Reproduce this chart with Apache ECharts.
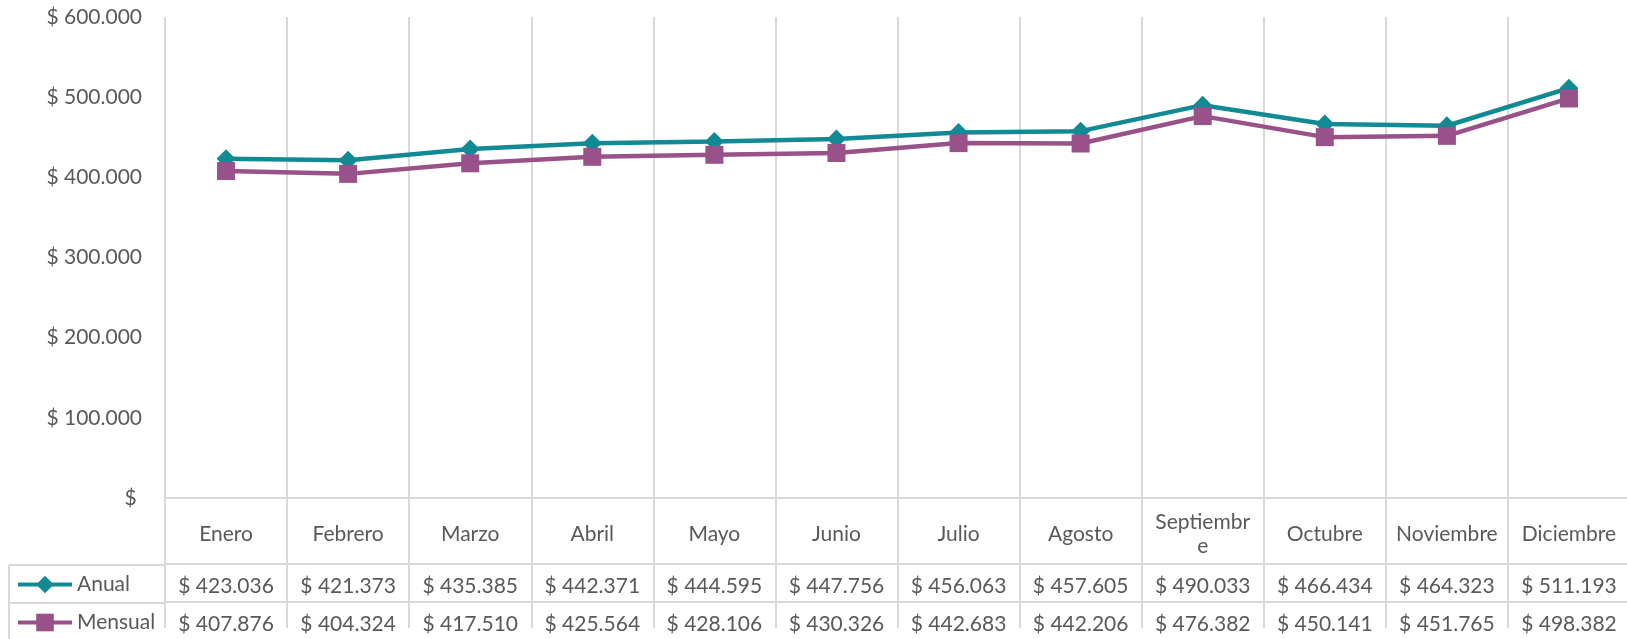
<!DOCTYPE html>
<html>
<head>
<meta charset="utf-8">
<script src="https://cdn.jsdelivr.net/npm/echarts@6.0.0/dist/echarts.min.js"></script>
<style>
    html, body { margin: 0; padding: 0; background: #fff; }
    #chart { width: 1627px; height: 639px; }
</style>
</head>
<body>
<div id="chart"></div>
<script>
var months = ['Enero', 'Febrero', 'Marzo', 'Abril', 'Mayo', 'Junio', 'Julio', 'Agosto', 'Septiembre', 'Octubre', 'Noviembre', 'Diciembre'];
var anual = [423036, 421373, 435385, 442371, 444595, 447756, 456063, 457605, 490033, 466434, 464323, 511193];
var mensual = [407876, 404324, 417510, 425564, 428106, 430326, 442683, 442206, 476382, 450141, 451765, 498382];
var seriesNames = ['Anual', 'Mensual'];

var gridColor = '#d9d9d9';
var textColor = '#595959';
var font = 'Lato';

// formato contable: $ 423.036
function money(v) {
    if (v == 0) return '$ ';
    return '$ ' + String(v).replace(/\B(?=(\d{3})+(?!\d))/g, '.');
}

function tableAxis(values, offset) {
    return {
        type: 'category',
        data: months,
        position: 'bottom',
        offset: offset,
        gridIndex: 0,
        axisLine: {show: true, lineStyle: {color: gridColor, width: 2}},
        axisTick: {show: false},
        splitLine: {show: false},
        axisLabel: {
            interval: 0,
            margin: 22,
            verticalAlign: 'middle',
            color: textColor,
            fontFamily: font,
            fontSize: 21,
            formatter: function (v, i) { return money(values[i]); }
        }
    };
}

// una leyenda por fila de la tabla
function tableLegend(name, top) {
    return {
        orient: 'vertical',
        left: 16,
        top: top,
        padding: 0,
        itemWidth: 54,
        itemHeight: 22,
        lineStyle: {width: 4},
        textStyle: {color: textColor, fontFamily: font, fontSize: 21},
        data: [name]
    };
}

var chart = echarts.init(document.getElementById('chart'));
var option = {
    backgroundColor: '#fff',
    animation: false,
    grid: {left: 165, right: -3, top: 17, bottom: 141, containLabel: false, outerBoundsMode: 'none'},
    legend: [tableLegend(seriesNames[0], 574), tableLegend(seriesNames[1], 612)],
    xAxis: [
        {
            type: 'category',
            data: months,
            boundaryGap: true,
            axisLine: {show: true, lineStyle: {color: gridColor, width: 2}},
            axisTick: {show: true, length: 130, lineStyle: {color: gridColor, width: 2}},
            splitLine: {show: true, lineStyle: {color: gridColor, width: 2}},
            axisLabel: {
                interval: 0,
                margin: 36,
                verticalAlign: 'middle',
                lineHeight: 24,
                color: textColor,
                fontFamily: font,
                fontSize: 21,
                formatter: function (v) { return v == 'Septiembre' ? 'Septiembr\ne' : v; }
            }
        },
        tableAxis(anual, 66),
        tableAxis(mensual, 104)
    ],
    yAxis: {
        type: 'value',
        min: 0,
        max: 600000,
        interval: 100000,
        axisLine: {show: false},
        axisTick: {show: false},
        splitLine: {show: false},
        axisLabel: {margin: 23, color: textColor, fontFamily: font, fontSize: 21, formatter: money}
    },
    // bordes de la celda de la leyenda
    graphic: [
        {type: 'line', shape: {x1: 9, y1: 565, x2: 9, y2: 639}, style: {stroke: gridColor, lineWidth: 2}},
        {type: 'line', shape: {x1: 9, y1: 565, x2: 165, y2: 565}, style: {stroke: gridColor, lineWidth: 2}},
        {type: 'line', shape: {x1: 9, y1: 603, x2: 165, y2: 603}, style: {stroke: gridColor, lineWidth: 2}}
    ],
    series: [
        {
            name: seriesNames[0],
            type: 'line',
            data: anual,
            symbol: 'diamond',
            symbolSize: 19,
            lineStyle: {width: 4.5, color: '#128a93'},
            itemStyle: {color: '#128a93'}
        },
        {
            name: seriesNames[1],
            type: 'line',
            data: mensual,
            symbol: 'rect',
            symbolSize: 18,
            lineStyle: {width: 4.5, color: '#985189'},
            itemStyle: {color: '#985189'}
        }
    ]
};
chart.setOption(option);
</script>
</body>
</html>
